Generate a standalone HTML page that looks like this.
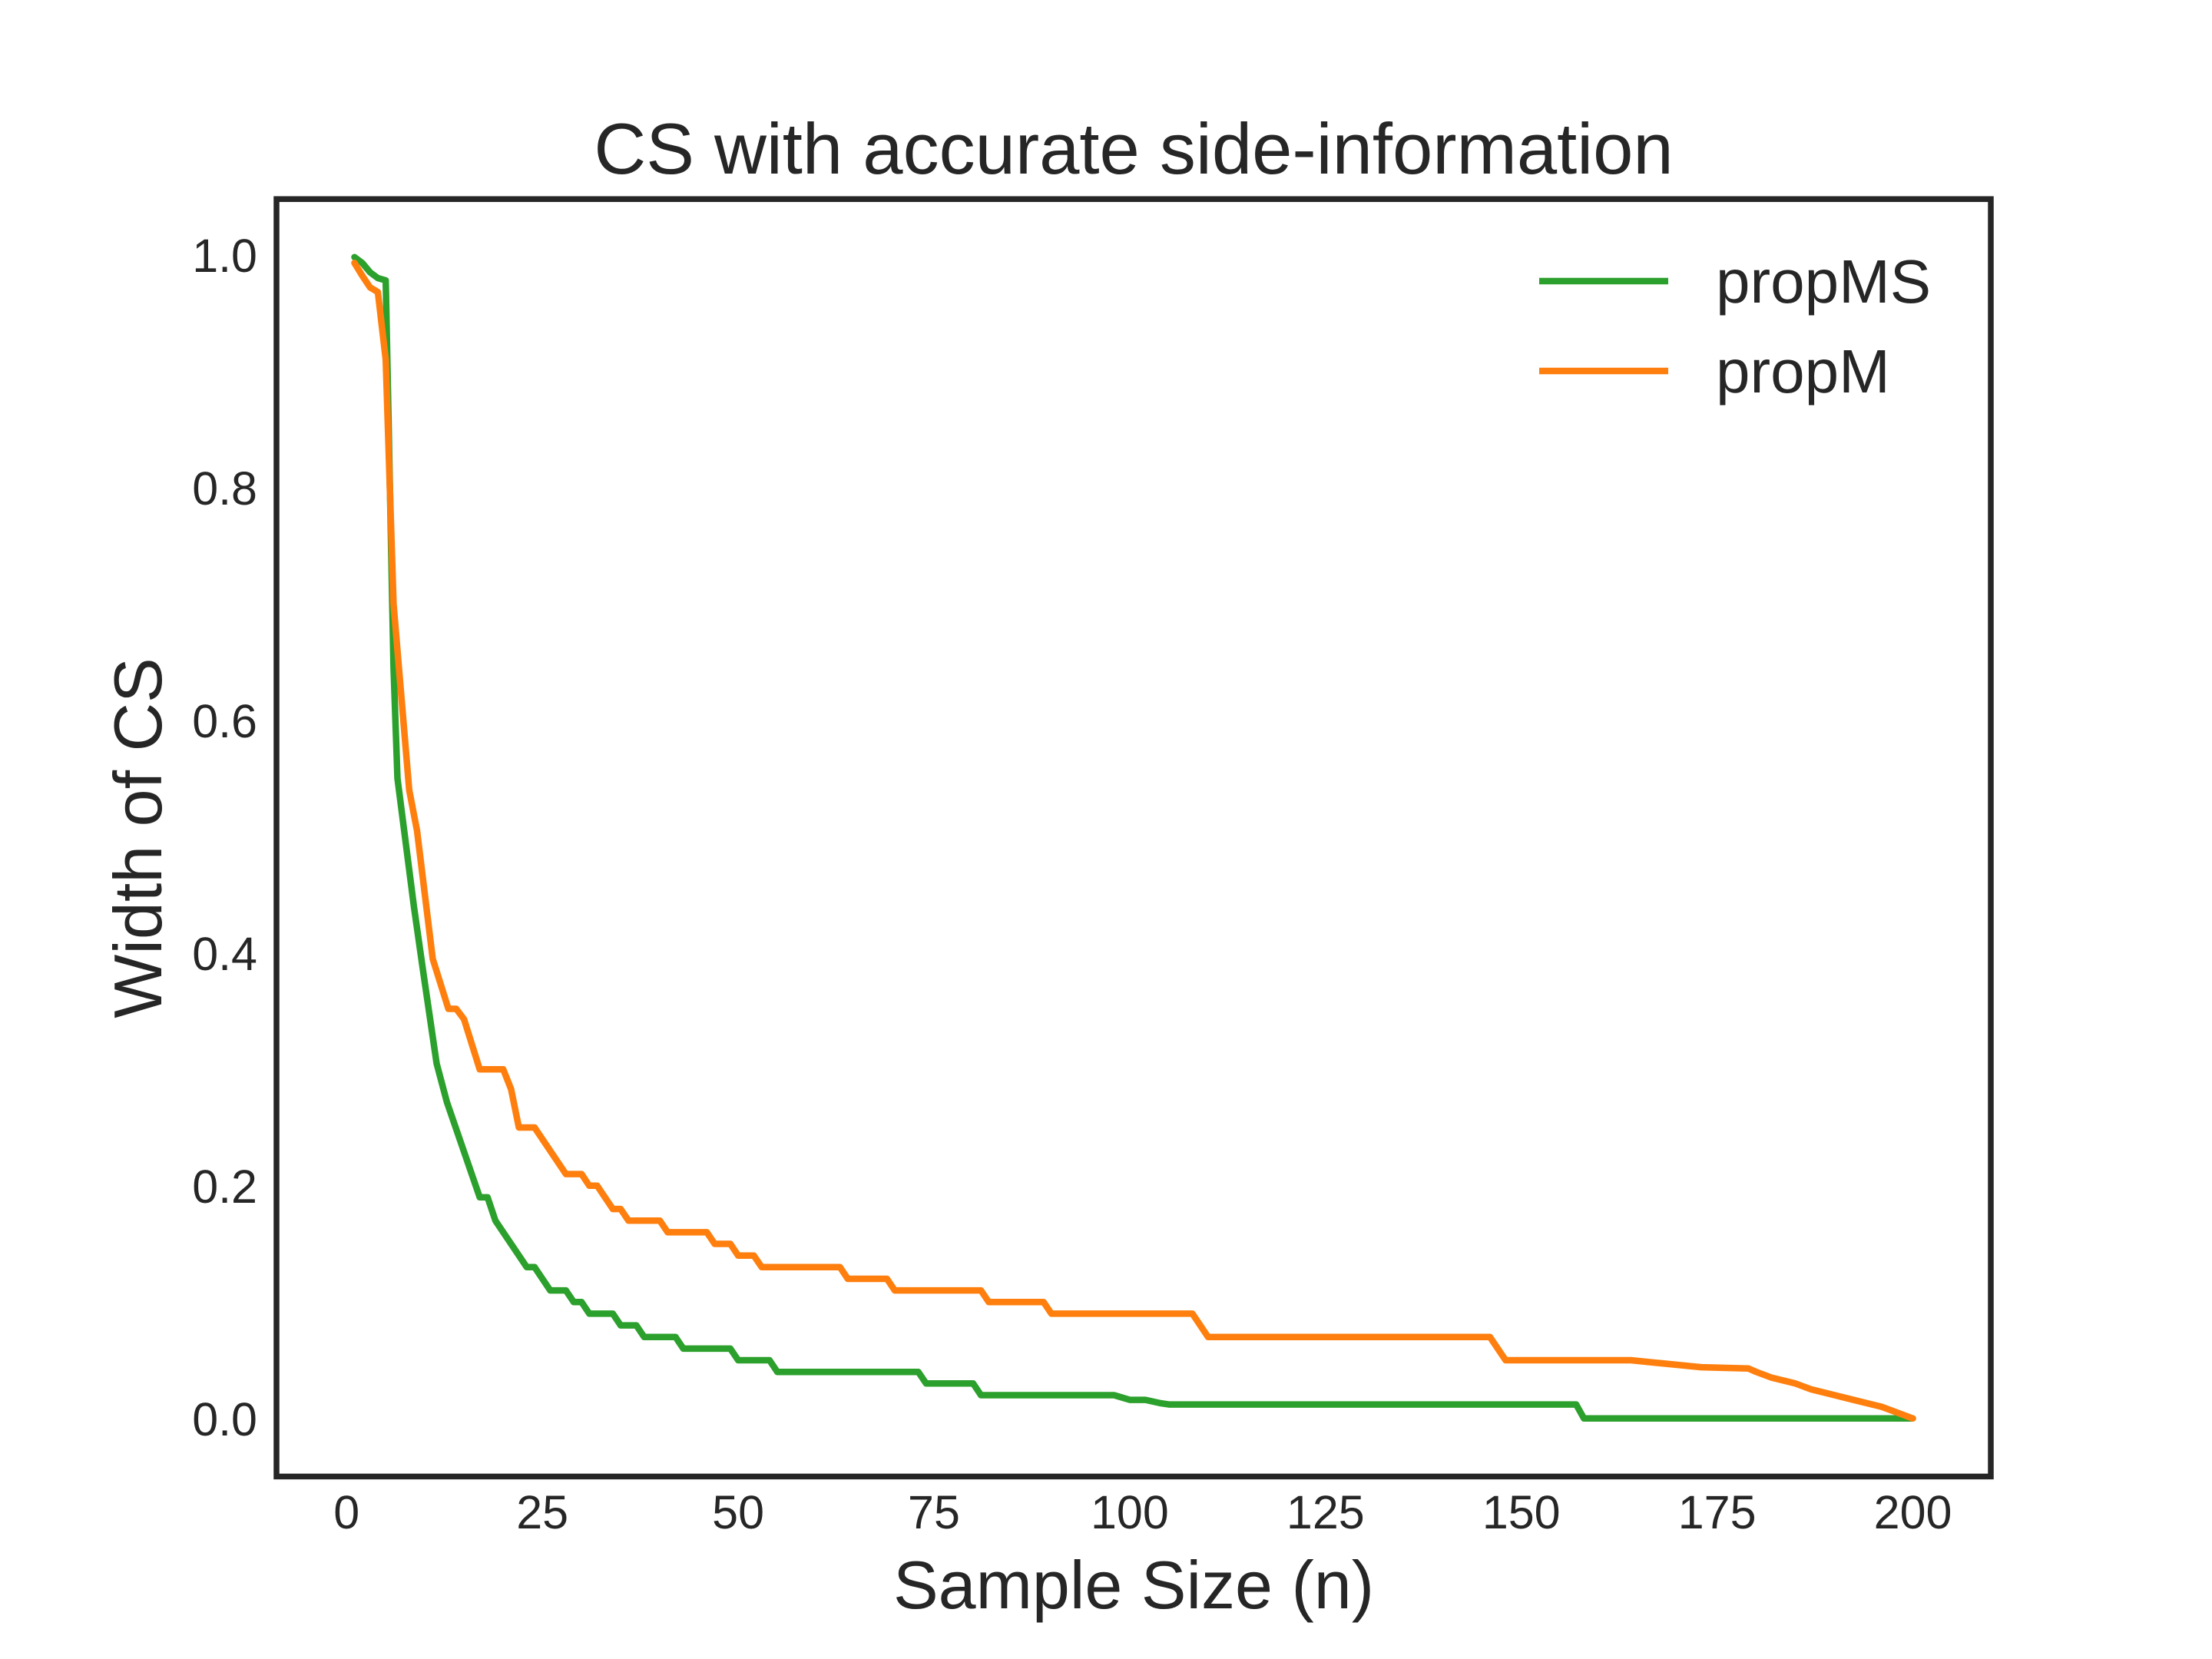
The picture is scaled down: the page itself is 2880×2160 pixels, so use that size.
<!DOCTYPE html>
<html><head><meta charset="utf-8"><style>
html,body{margin:0;padding:0;background:#fff}
svg{display:block}
text{font-family:"Liberation Sans",sans-serif;fill:#262626}
</style></head><body>
<svg id="chart" width="2880" height="2160" viewBox="0 0 2880 2160" xmlns="http://www.w3.org/2000/svg">
<rect width="2880" height="2160" fill="#fff"/>
<text x="1476" y="226" font-size="94" text-anchor="middle">CS with accurate side-information</text>
<g id="plot"></g>
<rect x="360" y="259.2" width="2232" height="1663.2" fill="none" stroke="#262626" stroke-width="7.5"/>
<text x="1476" y="2094" font-size="88" text-anchor="middle">Sample Size (n)</text>
<text x="0" y="0" font-size="88" text-anchor="middle" transform="translate(210,1091) rotate(-90)">Width of CS</text>
<g>
<line x1="2004" y1="366" x2="2172" y2="366" stroke="#2ca02c" stroke-width="8.5"/>
<text x="2234" y="394" font-size="80">propMS</text>
<line x1="2004" y1="483" x2="2172" y2="483" stroke="#ff7f0e" stroke-width="8.5"/>
<text x="2234" y="511" font-size="80">propM</text>
</g>
</svg>
<script>
const xTicks = [0, 25, 50, 75, 100, 125, 150, 175, 200];
const yTicks = [0.0, 0.2, 0.4, 0.6, 0.8, 1.0];
const yTickLabels = ["0.0", "0.2", "0.4", "0.6", "0.8", "1.0"];
const propMSn = [1,2,3,4,5,6,6.5,8.6,9.8,11.5,12.8,17,18,19,23,24,26,28,29,30,31,34,35,37,38,42,43,49,50,54,55,73,74,80,81,98,100,102,104,105,157,158,200];
const propMSv = [0.998,0.993,0.985,0.980,0.978,0.645,0.55,0.44,0.383,0.305,0.272,0.19,0.19,0.17,0.13,0.13,0.11,0.11,0.10,0.10,0.09,0.09,0.08,0.08,0.07,0.07,0.06,0.06,0.05,0.05,0.04,0.04,0.03,0.03,0.02,0.02,0.016,0.016,0.013,0.012,0.012,0.0,0.0];
const propMn = [1,2,3,4,5,6,8,9,11,13,14,15,17,20,21,22,24,28,30,31,32,34,35,36,40,41,46,47,49,50,52,53,63,64,69,70,81,82,89,90,108,110,146,148,164,167,170,173,179,180,182,185,187,190,193,196,198,200];
const propMv = [0.993,0.982,0.972,0.968,0.91,0.70,0.54,0.505,0.395,0.352,0.352,0.343,0.30,0.30,0.283,0.25,0.25,0.21,0.21,0.20,0.20,0.18,0.18,0.17,0.17,0.16,0.16,0.15,0.15,0.14,0.14,0.13,0.13,0.12,0.12,0.11,0.11,0.10,0.10,0.09,0.09,0.07,0.07,0.05,0.05,0.048,0.046,0.044,0.043,0.040,0.035,0.030,0.025,0.020,0.015,0.010,0.005,0.0];

const NS = "http://www.w3.org/2000/svg";
const svg = document.getElementById('chart');
const plot = document.getElementById('plot');
const AX = {left:360, right:2592, top:259.2, bottom:1922.4, xmin:-8.95, xmax:209.95, ymin:-0.0499, ymax:1.0479};
function xScale(n){ return AX.left + (n - AX.xmin) / (AX.xmax - AX.xmin) * (AX.right - AX.left); }
function yScale(v){ return AX.bottom - (v - AX.ymin) / (AX.ymax - AX.ymin) * (AX.bottom - AX.top); }

xTicks.forEach(function(t){
  const tx = document.createElementNS(NS, 'text');
  tx.setAttribute('x', xScale(t));
  tx.setAttribute('y', 1990);
  tx.setAttribute('font-size', 61);
  tx.setAttribute('text-anchor', 'middle');
  tx.textContent = String(t);
  
  
  svg.appendChild(tx);
});
yTicks.forEach(function(t, i){
  const tx = document.createElementNS(NS, 'text');
  tx.setAttribute('x', 335);
  tx.setAttribute('y', yScale(t) + 22);
  tx.setAttribute('font-size', 61);
  tx.setAttribute('text-anchor', 'end');
  tx.textContent = yTickLabels[i];
  
  
  svg.appendChild(tx);
});

function drawSeries(ns, vs, color, name){
  const pts = ns.map(function(n, i){ return xScale(n).toFixed(1) + ',' + yScale(vs[i]).toFixed(1); }).join(' ');
  const pl = document.createElementNS(NS, 'polyline');
  pl.setAttribute('points', pts);
  pl.setAttribute('fill', 'none');
  pl.setAttribute('stroke', color);
  pl.setAttribute('stroke-width', 8.5);
  pl.setAttribute('stroke-linejoin', 'round');
  pl.setAttribute('stroke-linecap', 'round');
  
  
  plot.appendChild(pl);
}
drawSeries(propMSn, propMSv, '#2ca02c', 'propms-line');
drawSeries(propMn, propMv, '#ff7f0e', 'propm-line');
</script>
</body></html>
